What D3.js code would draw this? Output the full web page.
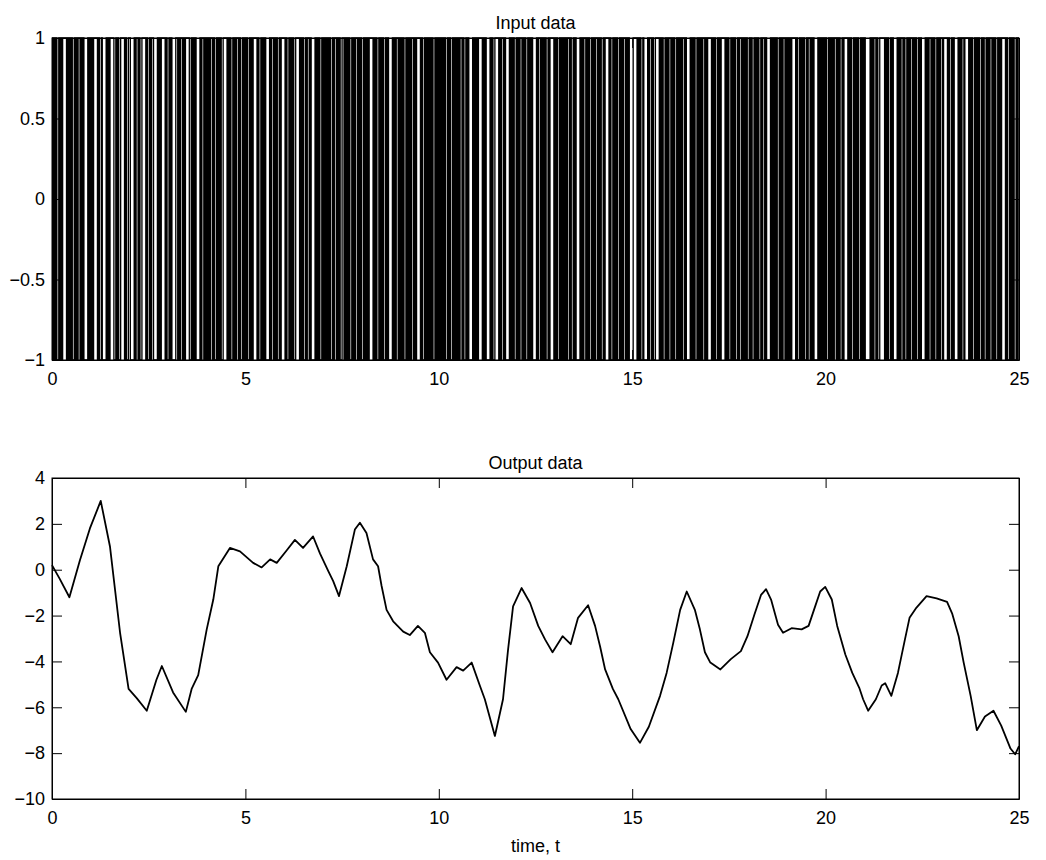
<!DOCTYPE html>
<html>
<head>
<meta charset="utf-8">
<script src="https://cdn.jsdelivr.net/npm/d3@7"></script>
<style>
  body { margin: 0; background: #fff; }
  svg { display: block; }
  text { font-family: "Liberation Sans", Arial, sans-serif; }
</style>
</head>
<body>
<div id="chart"></div>
<script>
// Input signal: one string per second, '1' = +1, '0' = -1 (held samples)
const inputSeconds = [
    "1010100101011110101010010101101010000101",
    "0101111010010000101011110010100111101001",
    "1000010110100111101001011000010101111010",
    "0101000011010110101111001010100001011010",
    "1010110100101010011110101001010110100101",
    "0100101011110100101010000101101010010111",
    "1010010101001111010100101101000010101001",
    "0101010100101101010011010101001010110101",
    "0010101011110101001010100101000010101101",
    "0101001010101101011110100101010101001010",
    "1010101001010010101010110100101000010101",
    "0111101010000101001111010110100001010100",
    "1010110101001010100001011010101001011110",
    "1010010101010110100101000010101101010010",
    "1011010100101111010010101001010110101000",
    "0111101010010000101101001111010100101011",
    "0101001010101101000010101001010101101011",
    "1101010010101111010100101010010110101010",
    "0101001010100101101000010101010010101101",
    "0101011110100101010010110101000010101010",
    "1001010101101010010111101010010101001010",
    "1000001010110100111110101001010000101011",
    "0100101011010100101000010101101010010101",
    "1011110100101000010101101111010100101010",
    "0101001010110101001010111101001010100101"
];

// Output signal
const outT = [0, 0.2, 0.45, 0.72, 0.98, 1.26, 1.5, 1.76, 1.98, 2.19, 2.45, 2.7, 2.84, 3.13, 3.46, 3.61, 3.78,
    4.0, 4.17, 4.3, 4.6, 4.86, 5.2, 5.42, 5.64, 5.81, 6.07, 6.28, 6.49, 6.75, 6.93, 7.14, 7.27, 7.42, 7.62,
    7.83, 7.96, 8.13, 8.3, 8.43, 8.52, 8.65, 8.82, 9.08, 9.25, 9.46, 9.64, 9.77, 9.98, 10.2, 10.46, 10.63,
    10.85, 11.06, 11.19, 11.45, 11.66, 11.79, 11.92, 12.14, 12.36, 12.57, 12.75, 12.94, 13.2, 13.41, 13.6,
    13.86, 14.04, 14.17, 14.3, 14.5, 14.64, 14.96, 15.2, 15.43, 15.72, 15.89, 16.06, 16.24, 16.41, 16.62,
    16.75, 16.88, 17.02, 17.28, 17.55, 17.81, 17.98, 18.16, 18.33, 18.46, 18.59, 18.77, 18.9, 19.12, 19.38,
    19.56, 19.73, 19.86, 19.99, 20.16, 20.3, 20.51, 20.69, 20.87, 20.97, 21.1, 21.3, 21.45, 21.54, 21.7,
    21.87, 22.05, 22.17, 22.35, 22.61, 22.87, 23.14, 23.27, 23.44, 23.57, 23.75, 23.91, 24.12, 24.34, 24.54,
    24.78, 24.9, 25.0];
const outV = [0.2, -0.4, -1.2, 0.4, 1.8, 3.0, 1.0, -2.75, -5.2, -5.6, -6.15, -4.8, -4.2, -5.35, -6.2, -5.2, -4.6,
    -2.6, -1.3, 0.15, 0.95, 0.8, 0.3, 0.1, 0.45, 0.3, 0.85, 1.3, 0.95, 1.45, 0.7, -0.05, -0.5, -1.15, 0.15,
    1.75, 2.05, 1.6, 0.45, 0.15, -0.7, -1.75, -2.25, -2.7, -2.85, -2.45, -2.75, -3.6, -4.05, -4.8, -4.25, -4.4,
    -4.05, -5.05, -5.65, -7.25, -5.65, -3.5, -1.6, -0.8, -1.45, -2.45, -3.05, -3.6, -2.9, -3.25, -2.1,
    -1.55, -2.45, -3.35, -4.35, -5.2, -5.65, -6.95, -7.55, -6.85, -5.5, -4.5, -3.2, -1.75, -0.95, -1.75,
    -2.6, -3.6, -4.05, -4.35, -3.9, -3.55, -2.9, -1.95, -1.1, -0.85, -1.3, -2.4, -2.75, -2.55, -2.6,
    -2.45, -1.6, -0.95, -0.75, -1.3, -2.45, -3.7, -4.5, -5.15, -5.65, -6.15, -5.65, -5.05, -4.95, -5.5,
    -4.5, -3.05, -2.1, -1.65, -1.15, -1.25, -1.4, -1.9, -2.9, -4.05, -5.5, -7.0, -6.4, -6.15, -6.8,
    -7.8, -8.05, -7.7];

const xTicks = [0, 5, 10, 15, 20, 25];
const xTickLabels = ["0", "5", "10", "15", "20", "25"];
const yTicksIn = [-1, -0.5, 0, 0.5, 1];
const yTickLabelsIn = ["\u22121", "\u22120.5", "0", "0.5", "1"];
const yTicksOut = [-10, -8, -6, -4, -2, 0, 2, 4];
const yTickLabelsOut = ["\u221210", "\u22128", "\u22126", "\u22124", "\u22122", "0", "2", "4"];

const width = 1046, height = 860;
const svg = d3.select('#chart').append('svg')
    .attr('width', width)
    .attr('height', height);

const left = 52, right = 1019;
const x = d3.scaleLinear().domain([0, 25]).range([left, right]);

// Build input samples
const inputData = [];
inputSeconds.forEach((s, i) => {
    const n = s.length;
    for (let j = 0; j < n; j++) {
        inputData.push({ t: i + j / n, v: s[j] === '1' ? 1 : -1 });
    }
});
inputData.push({ t: 25, v: inputData[inputData.length - 1].v });

const outputData = outT.map((t, i) => ({ t: t, v: outV[i] }));

function drawPanel(top, bottom, yDomain, yTicks, yLabels, title) {
    const y = d3.scaleLinear().domain(yDomain).range([bottom, top]);
    const g = svg.append('g');

    // ticks pointing inwards on all four sides
    g.append('g')
        .attr('transform', `translate(0,${bottom})`)
        .call(d3.axisBottom(x).tickValues(xTicks).tickFormat((d, i) => xTickLabels[i])
            .tickSizeInner(-10).tickSizeOuter(0).tickPadding(12));
    g.append('g')
        .attr('transform', `translate(0,${top})`)
        .call(d3.axisTop(x).tickValues(xTicks).tickFormat('').tickSizeInner(-10).tickSizeOuter(0));
    g.append('g')
        .attr('transform', `translate(${left},0)`)
        .call(d3.axisLeft(y).tickValues(yTicks).tickFormat((d, i) => yLabels[i])
            .tickSizeInner(-10).tickSizeOuter(0).tickPadding(7));
    g.append('g')
        .attr('transform', `translate(${right},0)`)
        .call(d3.axisRight(y).tickValues(yTicks).tickFormat('').tickSizeInner(-10).tickSizeOuter(0));

    g.selectAll('.tick text')
        .attr('fill', '#000')
        .style('font-size', '18px');
    g.selectAll('.tick line').attr('stroke', '#000');
    g.selectAll('.domain').attr('stroke', '#000');

    g.append('rect')
        .attr('x', left).attr('y', top)
        .attr('width', right - left).attr('height', bottom - top)
        .attr('fill', 'none').attr('stroke', '#000').attr('stroke-width', 1);

    g.append('text')
        .attr('x', (left + right) / 2)
        .attr('y', top - 9)
        .attr('text-anchor', 'middle')
        .style('font-size', '18px')
        .text(title);

    return y;
}

const yIn = drawPanel(38, 360, [-1, 1], yTicksIn, yTickLabelsIn, 'Input data');
const yOut = drawPanel(478, 799, [-10, 4], yTicksOut, yTickLabelsOut, 'Output data');

svg.append('path')
    .datum(inputData)
    .attr('fill', 'none')
    .attr('stroke', '#000')
    .attr('stroke-width', 1.3)
    .attr('d', d3.line().x(d => x(d.t)).y(d => yIn(d.v)).curve(d3.curveStepAfter));

svg.append('path')
    .datum(outputData)
    .attr('fill', 'none')
    .attr('stroke', '#000')
    .attr('stroke-width', 1.8)
    .attr('stroke-linejoin', 'round')
    .attr('d', d3.line().x(d => x(d.t)).y(d => yOut(d.v)));

svg.append('text')
    .attr('x', (left + right) / 2)
    .attr('y', 852)
    .attr('text-anchor', 'middle')
    .style('font-size', '18px')
    .text('time, t');
</script>
</body>
</html>
